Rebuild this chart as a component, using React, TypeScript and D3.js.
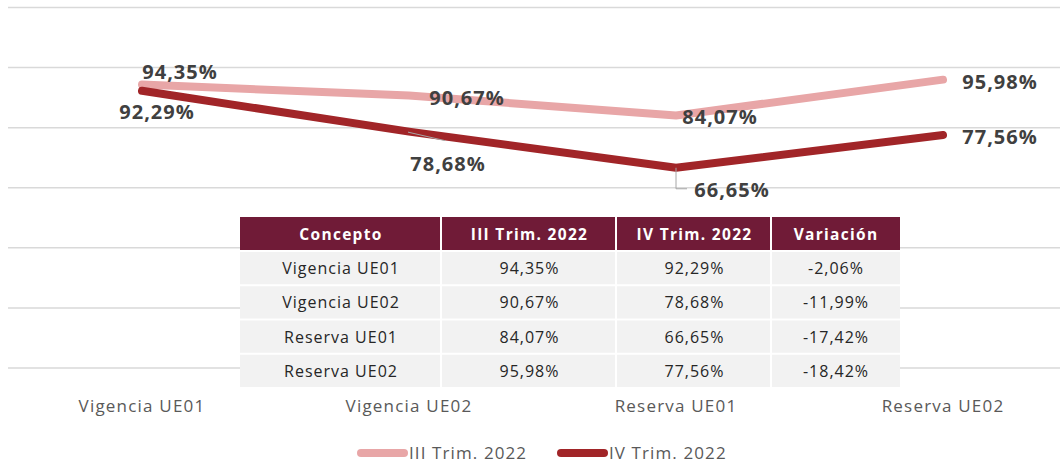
import React from "react";
import * as d3 from "d3";

const categories = ["Vigencia UE01", "Vigencia UE02", "Reserva UE01", "Reserva UE02"];
const seriesNames = ["III Trim. 2022", "IV Trim. 2022"];
const trimIII = [94.35, 90.67, 84.07, 95.98];
const trimIV = [92.29, 78.68, 66.65, 77.56];
const variacion = [-2.06, -11.99, -17.42, -18.42];
const yTicks = [0, 20, 40, 60, 80, 100, 120];
const tableHeaders = ["Concepto", "III Trim. 2022", "IV Trim. 2022", "Variación"];

// label offsets (style): [dx, dy] from the point to the label centre
const labelOffsetsIII: [number, number][] = [[38, -13], [58, 2], [44, 2], [57, 2]];
const labelOffsetsIV: [number, number][] = [[15, 21], [39, 32], [56, 22], [57, 2]];

const W = 1060;
const H = 464;
const colors = ["#E8A6A7", "#A12528"];
const fmt = (v: number) =>
  d3.format(".2f")(v).replace("\u2212", "-").replace(".", ",") + "%";

export default function App() {
  const x = d3.scalePoint<string>().domain(categories).range([142, 943]);
  const y = d3.scaleLinear().domain([0, 120]).range([368, 7.5]);
  const line = d3
    .line<number>()
    .x((_, i) => x(categories[i]) as number)
    .y((d) => y(d));

  const series = [trimIII, trimIV];
  const offsets = [labelOffsetsIII, labelOffsetsIV];

  // table geometry
  const colEdges = [240, 442, 617, 772, 900];
  const headTop = 217;
  const headH = 33;
  const rowH = 34.25;
  const rows = categories.map((c, i) => [c, fmt(trimIII[i]), fmt(trimIV[i]), fmt(variacion[i])]);

  const ptIV1 = { x: x(categories[1]) as number, y: y(trimIV[1]) };
  const ptIV2 = { x: x(categories[2]) as number, y: y(trimIV[2]) };

  return (
    <svg
      width={W}
      height={H}
      style={{ position: "absolute", left: 0, top: 0, background: "#fff" }}
      fontFamily="'Open Sans', sans-serif"
    >
      {/* gridlines */}
      {yTicks.map((t) => (
        <line key={t} x1={8} x2={W} y1={y(t)} y2={y(t)} stroke="#D9D9D9" strokeWidth={1.5} />
      ))}

      {/* table */}
      <g>
        <rect x={colEdges[0]} y={headTop} width={colEdges[4] - colEdges[0]} height={headH + rowH * 4} fill="#fff" />
        {tableHeaders.map((h, j) => (
          <g key={h}>
            <rect
              x={colEdges[j]}
              y={headTop}
              width={colEdges[j + 1] - colEdges[j] - (j < 3 ? 2 : 0)}
              height={headH}
              fill="#701B37"
            />
            <text
              x={(colEdges[j] + colEdges[j + 1]) / 2}
              y={headTop + headH / 2 + 6}
              textAnchor="middle"
              fill="#fff"
              fontWeight={700}
              fontSize={15.5}
              letterSpacing={1.3}
            >
              {h}
            </text>
          </g>
        ))}
        {rows.map((r, i) =>
          r.map((cell, j) => {
            const top = headTop + headH + i * rowH;
            return (
              <g key={i + "-" + j}>
                <rect
                  x={colEdges[j]}
                  y={top + 2}
                  width={colEdges[j + 1] - colEdges[j] - (j < 3 ? 2 : 0)}
                  height={rowH - 2}
                  fill="#F2F2F2"
                />
                <text
                  x={(colEdges[j] + colEdges[j + 1]) / 2}
                  y={top + 2 + (rowH - 2) / 2 + 6}
                  textAnchor="middle"
                  fill="#262626"
                  fontSize={16}
                  letterSpacing={1}
                >
                  {cell}
                </text>
              </g>
            );
          })
        )}
      </g>

      {/* lines */}
      {series.map((s, k) => (
        <path
          key={k}
          d={line(s) as string}
          fill="none"
          stroke={colors[k]}
          strokeWidth={8}
          strokeLinecap="round"
          strokeLinejoin="round"
        />
      ))}

      {/* leader lines */}
      <line x1={ptIV1.x - 1} y1={ptIV1.y + 0.5} x2={ptIV1.x + 36} y2={ptIV1.y + 9} stroke="#A6A6A6" strokeWidth={1} />
      <polyline
        points={`${ptIV2.x},${ptIV2.y} ${ptIV2.x},${ptIV2.y + 21} ${ptIV2.x + 11},${ptIV2.y + 21}`}
        fill="none"
        stroke="#A6A6A6"
        strokeWidth={1}
      />

      {/* data labels */}
      {series.map((s, k) =>
        s.map((v, i) => (
          <text
            key={k + "-" + i}
            x={(x(categories[i]) as number) + offsets[k][i][0]}
            y={y(v) + offsets[k][i][1] + 7}
            textAnchor="middle"
            fill="#404040"
            fontWeight={700}
            fontSize={20}
            letterSpacing={1}
          >
            {fmt(v)}
          </text>
        ))
      )}

      {/* category axis labels */}
      {categories.map((c) => (
        <text
          key={c}
          x={x(c) as number}
          y={412}
          textAnchor="middle"
          fill="#595959"
          fontSize={17}
          letterSpacing={1.2}
        >
          {c}
        </text>
      ))}

      {/* legend */}
      {seriesNames.map((n, k) => {
        const lx = [357, 557][k];
        return (
          <g key={n}>
            <line x1={lx + 4} x2={lx + 47} y1={453} y2={453} stroke={colors[k]} strokeWidth={8} strokeLinecap="round" />
            <text x={lx + 52} y={459} fill="#595959" fontSize={17} letterSpacing={1.1}>
              {n}
            </text>
          </g>
        );
      })}
    </svg>
  );
}
